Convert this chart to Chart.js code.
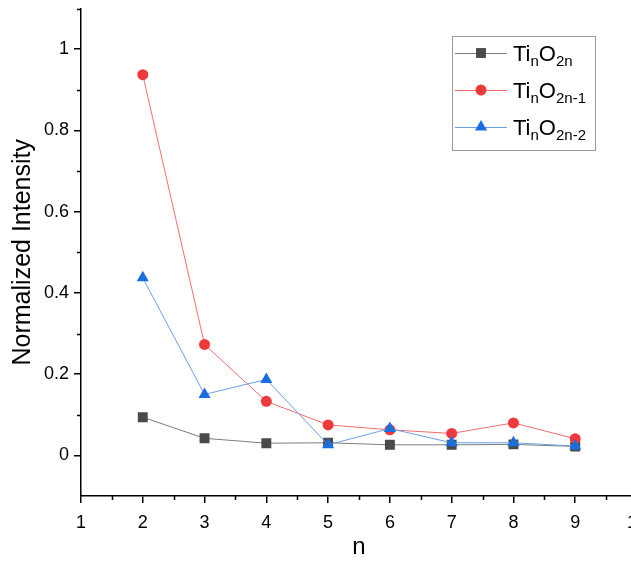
<!DOCTYPE html>
<html>
<head>
<meta charset="utf-8">
<script src="https://cdn.jsdelivr.net/npm/chart.js@4"></script>
<style>
  html, body { margin: 0; padding: 0; overflow: hidden; background: #fff; }
</style>
</head>
<body>
<canvas id="chart" width="651" height="565"></canvas>
<script>
// data
const nValues = [2, 3, 4, 5, 6, 7, 8, 9];
const tiO2n  = [0.094, 0.042, 0.030, 0.031, 0.026, 0.026, 0.027, 0.022];
const tiO2n1 = [0.937, 0.273, 0.133, 0.075, 0.063, 0.054, 0.080, 0.041];
const tiO2n2 = [0.437, 0.150, 0.187, 0.026, 0.066, 0.031, 0.031, 0.023];

// legend text: normal / subscript pieces
const seriesNames = [
  ['Ti', 'n', 'O', '2n'],
  ['Ti', 'n', 'O', '2n-1'],
  ['Ti', 'n', 'O', '2n-2']
];

const xTicks = [1, 2, 3, 4, 5, 6, 7, 8, 9, 10];
const xMinor = [1.5, 2.5, 3.5, 4.5, 5.5, 6.5, 7.5, 8.5, 9.5];
const yTicks = [0, 0.2, 0.4, 0.6, 0.8, 1];
const yTickLabels = ['0', '0.2', '0.4', '0.6', '0.8', '1'];
const yMinor = [0.1, 0.3, 0.5, 0.7, 0.9, 1.1];

const FONT = "'Liberation Sans', Arial, sans-serif";

function pts(ys) {
  return nValues.map((n, i) => ({x: n, y: ys[i]}));
}

// short minor ticks, Origin style
const minorTicks = {
  id: 'minorTicks',
  afterDraw(chart) {
    const ctx = chart.ctx;
    const xs = chart.scales.x, ys = chart.scales.y;
    const a = chart.chartArea;
    ctx.save();
    ctx.strokeStyle = '#000';
    ctx.lineWidth = 1.5;
    ctx.beginPath();
    xMinor.forEach(v => {
      const px = Math.round(xs.getPixelForValue(v)) + 0.5;
      ctx.moveTo(px, a.bottom);
      ctx.lineTo(px, a.bottom + 4);
    });
    yMinor.forEach(v => {
      const py = Math.round(ys.getPixelForValue(v)) + 0.5;
      ctx.moveTo(a.left, py);
      ctx.lineTo(a.left - 4, py);
    });
    ctx.stroke();
    ctx.restore();
  }
};

// legend with subscripts
const subLegend = {
  id: 'subLegend',
  afterDraw(chart) {
    const ctx = chart.ctx;
    ctx.save();
    ctx.strokeStyle = '#9a9a9a';
    ctx.lineWidth = 1;
    ctx.strokeRect(452.5, 36.5, 143, 114);
    chart.data.datasets.forEach((ds, i) => {
      const y = 53 + i * 37;
      ctx.strokeStyle = ds.borderColor;
      ctx.lineWidth = 1;
      ctx.beginPath();
      ctx.moveTo(455, y + 0.5);
      ctx.lineTo(507, y + 0.5);
      ctx.stroke();
      ctx.fillStyle = ds.pointBackgroundColor;
      Chart.helpers.drawPoint(ctx, {pointStyle: ds.pointStyle, radius: ds.pointRadius, borderWidth: 0}, 481, y);

      let x = 513;
      ctx.fillStyle = '#000';
      ctx.textBaseline = 'alphabetic';
      ctx.textAlign = 'left';
      seriesNames[i].forEach((part, k) => {
        const sub = k % 2 === 1;
        ctx.font = (sub ? '15px ' : '22px ') + FONT;
        ctx.fillText(part, x, sub ? y + 13 : y + 8);
        x += ctx.measureText(part).width;
      });
    });
    ctx.restore();
  }
};

new Chart(document.getElementById('chart'), {
  type: 'line',
  data: {
    datasets: [
      {
        label: 'TinO2n', data: pts(tiO2n), order: 2,
        borderColor: '#7d7d7d', borderWidth: 1,
        pointStyle: 'rect', pointRadius: 7, pointBorderWidth: 0,
        pointBackgroundColor: '#4a4a4a', pointBorderColor: '#4a4a4a'
      },
      {
        label: 'TinO2n-1', data: pts(tiO2n1), order: 1,
        borderColor: '#f26d6d', borderWidth: 1,
        pointStyle: 'circle', pointRadius: 5.5, pointBorderWidth: 0,
        pointBackgroundColor: '#ef3a3d', pointBorderColor: '#ef3a3d'
      },
      {
        label: 'TinO2n-2', data: pts(tiO2n2), order: 0,
        borderColor: '#6b9fe6', borderWidth: 1,
        pointStyle: 'triangle', pointRadius: 7, pointBorderWidth: 0,
        pointBackgroundColor: '#1a6fe0', pointBorderColor: '#1a6fe0'
      }
    ]
  },
  options: {
    responsive: false,
    animation: false,
    events: [],
    layout: { padding: { top: 8.5, right: 14, left: 0, bottom: 0 } },
    plugins: { legend: { display: false }, tooltip: { enabled: false } },
    scales: {
      x: {
        type: 'linear', min: 1, max: 10,
        afterBuildTicks: s => { s.ticks = xTicks.map(v => ({value: v})); },
        afterFit: s => { s.height = 69; s.paddingLeft = 0; s.paddingRight = 0; },
        grid: { drawOnChartArea: false, tickLength: 7, color: '#000', lineWidth: 1.5 },
        border: { color: '#000', width: 1.5 },
        ticks: { color: '#000', font: { family: FONT, size: 18 }, padding: 9, maxRotation: 0, autoSkip: false },
        title: { display: true, text: 'n', color: '#000', font: { family: FONT, size: 24 }, padding: { top: 0, bottom: 3 } }
      },
      y: {
        type: 'linear', min: -0.1, max: 1.1,
        afterBuildTicks: s => { s.ticks = yTicks.map(v => ({value: v})); },
        afterFit: s => { s.width = 81; s.paddingTop = 0; s.paddingBottom = 0; },
        grid: { drawOnChartArea: false, tickLength: 7, color: '#000', lineWidth: 1.5 },
        border: { color: '#000', width: 1.5 },
        ticks: {
          color: '#000', font: { family: FONT, size: 18 }, padding: 5,
          callback: (v) => { const i = yTicks.indexOf(v); return i >= 0 ? yTickLabels[i] : ''; }
        },
        title: { display: true, text: 'Normalized Intensity', color: '#000', font: { family: FONT, size: 25 }, padding: { top: 8, bottom: 0 } }
      }
    }
  },
  plugins: [minorTicks, subLegend]
});
</script>
</body>
</html>
